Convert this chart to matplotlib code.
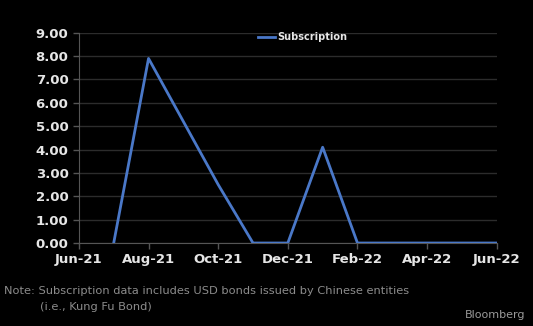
import matplotlib
matplotlib.use("Agg")
import matplotlib.pyplot as plt

months = ['Jun-21', 'Jul-21', 'Aug-21', 'Sep-21', 'Oct-21', 'Nov-21', 'Dec-21',
          'Jan-22', 'Feb-22', 'Mar-22', 'Apr-22', 'May-22', 'Jun-22']
# no value for Jun-21, series starts in Jul-21
subscription = [None, 0.0, 7.9, 5.2, 2.5, 0.0, 0.0, 4.1, 0.0, 0.0, 0.0, 0.0, 0.0]
yticks = [0, 1, 2, 3, 4, 5, 6, 7, 8, 9]

fig = plt.figure(figsize=(5.33, 3.26), dpi=100, facecolor='black')
ax = fig.add_axes([0.148, 0.2546, 0.784, 0.645], facecolor='black')

xs = [i for i, v in enumerate(subscription) if v is not None]
ys = [v for v in subscription if v is not None]
ax.plot(xs, ys, color='#4a78c8', lw=2.0, label='Subscription', zorder=3)

ax.set_xlim(0, len(months) - 1)
ax.set_ylim(0, 9)
ax.set_xticks(range(0, len(months), 2))
ax.set_xticklabels(months[::2])
ax.set_yticks(yticks)
ax.set_yticklabels([f'{v:.2f}' for v in yticks])

ax.grid(axis='y', color='#2c2c2c', lw=1)
ax.set_axisbelow(True)
for s in ['top', 'right']:
    ax.spines[s].set_visible(False)
for s in ['left', 'bottom']:
    ax.spines[s].set_color('#555555')
ax.tick_params(colors='#555555', length=4, width=1, labelcolor='#e6e6e6',
               labelsize=9.5)
for lab in ax.get_xticklabels() + ax.get_yticklabels():
    lab.set_fontweight('bold')

leg = ax.legend(loc='upper center', bbox_to_anchor=(0.535, 1.03), frameon=False,
                prop={'weight': 'bold', 'size': 7}, handlelength=1.8,
                handletextpad=0.2, borderaxespad=0.2)
for t in leg.get_texts():
    t.set_color('#e6e6e6')

fig.text(0.008, 0.098, 'Note: Subscription data includes USD bonds issued by Chinese entities',
         color='#8c8c8c', fontsize=8.2)
fig.text(0.075, 0.048, '(i.e., Kung Fu Bond)', color='#8c8c8c', fontsize=8.2)
fig.text(0.985, 0.025, 'Bloomberg', color='#9a9a9a', fontsize=8, ha='right')

fig.savefig('out.png', dpi=100, facecolor='black')
